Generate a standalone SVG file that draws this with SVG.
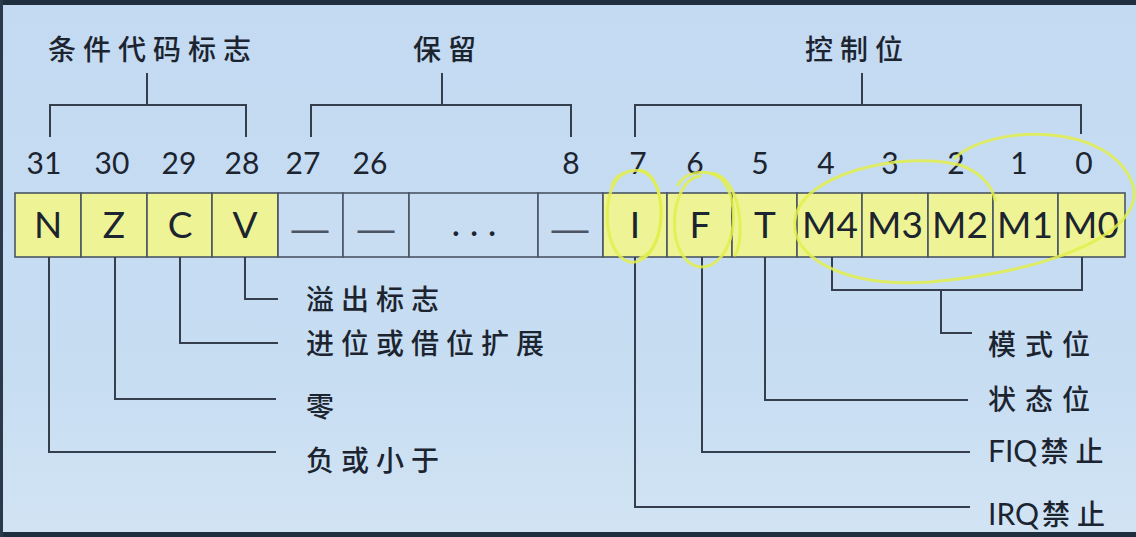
<svg xmlns="http://www.w3.org/2000/svg" width="1136" height="537" viewBox="0 0 1136 537">
<defs>
<linearGradient id="bg" x1="0" y1="0" x2="0" y2="1">
<stop offset="0" stop-color="#c3daf2"/>
<stop offset="0.7" stop-color="#c7ddf2"/>
<stop offset="1" stop-color="#d2e4f4"/>
</linearGradient>
<style>
.cell{stroke:#4a5564;stroke-width:1.6}
.flag{fill:#eef495}
.res{fill:#c8ddf2}
.ltr{font-family:Lato,"Open Sans","Liberation Sans",sans-serif;font-size:37px;fill:#1c2430;text-anchor:middle}
.dash{font-family:"Liberation Sans",sans-serif;font-size:37px;fill:#4a5462;text-anchor:middle}
.num{font-family:Lato,"Open Sans","Liberation Sans",sans-serif;font-size:30px;fill:#1c2430;text-anchor:middle}
.cjk{font-family:"Noto Sans CJK SC","Noto Sans CJK JP",sans-serif;font-size:28px;font-weight:500;fill:#1c2430;letter-spacing:7px}
.lat{font-family:Lato,"Open Sans","Liberation Sans",sans-serif;font-size:30px;fill:#1c2430;letter-spacing:0}
.ln{fill:none;stroke:#343e4c;stroke-width:2}
.hl{fill:none;stroke:#e3ef4c;stroke-width:3;opacity:0.85;stroke-linecap:round}
</style>
</defs>
<rect x="0" y="0" width="1136" height="537" fill="url(#bg)"/>
<rect x="0" y="0" width="1136" height="5" fill="#1f2f3f"/>
<rect x="0" y="532" width="1136" height="5" fill="#1f2f3f"/>
<rect x="0" y="0" width="3" height="537" fill="#2a3a4a"/>

<g id="group-labels">
<text id="lbl-cond" class="cjk" x="48" y="60">条件代码标志</text>
<text id="lbl-res" class="cjk" x="413" y="60">保留</text>
<text id="lbl-ctrl" class="cjk" x="805" y="60">控制位</text>
</g>

<g id="bit-numbers">
<text class="num" x="44" y="174">31</text>
<text class="num" x="112" y="174">30</text>
<text class="num" x="179" y="174">29</text>
<text class="num" x="242" y="174">28</text>
<text class="num" x="303" y="174">27</text>
<text class="num" x="370" y="174">26</text>
<text class="num" x="571" y="174">8</text>
<text class="num" x="638" y="174">7</text>
<text class="num" x="695" y="174">6</text>
<text class="num" x="760" y="174">5</text>
<text class="num" x="826" y="174">4</text>
<text class="num" x="890" y="174">3</text>
<text class="num" x="956" y="174">2</text>
<text class="num" x="1019" y="174">1</text>
<text class="num" x="1084" y="174">0</text>
</g>

<g id="cell-N"><rect class="cell flag" x="15" y="193" width="66" height="64"/><text class="ltr" x="48" y="238">N</text></g>
<g id="cell-Z"><rect class="cell flag" x="81" y="193" width="66" height="64"/><text class="ltr" x="114" y="238">Z</text></g>
<g id="cell-C"><rect class="cell flag" x="147" y="193" width="65" height="64"/><text class="ltr" x="180" y="238">C</text></g>
<g id="cell-V"><rect class="cell flag" x="212" y="193" width="66" height="64"/><text class="ltr" x="245" y="238">V</text></g>
<g id="cell-r27"><rect class="cell res" x="278" y="193" width="65" height="64"/><text class="dash" x="310" y="241">—</text></g>
<g id="cell-r26"><rect class="cell res" x="343" y="193" width="66" height="64"/><text class="dash" x="376" y="241">—</text></g>
<g id="cell-rdots"><rect class="cell res" x="409" y="193" width="129" height="64"/><text class="ltr" x="474" y="236">. . .</text></g>
<g id="cell-r8"><rect class="cell res" x="538" y="193" width="65" height="64"/><text class="dash" x="570" y="241">—</text></g>
<g id="cell-I"><rect class="cell flag" x="603" y="193" width="64" height="64"/><text class="ltr" x="635" y="238">I</text></g>
<g id="cell-F"><rect class="cell flag" x="667" y="193" width="65" height="64"/><text class="ltr" x="700" y="238">F</text></g>
<g id="cell-T"><rect class="cell flag" x="732" y="193" width="65" height="64"/><text class="ltr" x="765" y="238">T</text></g>
<g id="cell-M4"><rect class="cell flag" x="797" y="193" width="65" height="64"/><text class="ltr" x="830" y="238">M4</text></g>
<g id="cell-M3"><rect class="cell flag" x="862" y="193" width="66" height="64"/><text class="ltr" x="895" y="238">M3</text></g>
<g id="cell-M2"><rect class="cell flag" x="928" y="193" width="65" height="64"/><text class="ltr" x="960" y="238">M2</text></g>
<g id="cell-M1"><rect class="cell flag" x="993" y="193" width="65" height="64"/><text class="ltr" x="1025" y="238">M1</text></g>
<g id="cell-M0"><rect class="cell flag" x="1058" y="193" width="67" height="64"/><text class="ltr" x="1091" y="238">M0</text></g>

<g id="connectors">
<path class="ln" d="M147 73 V105 M50 137 V105 H246 V137"/>
<path class="ln" d="M442 73 V105 M311 137 V105 H571 V137"/>
<path class="ln" d="M862 73 V105 M635 137 V105 H1081 V134"/>
<path class="ln" d="M49 257 V452 H276"/>
<path class="ln" d="M115 257 V399 H276"/>
<path class="ln" d="M180 257 V343 H278"/>
<path class="ln" d="M245 257 V299 H278"/>
<path class="ln" d="M635 257 V507 H970"/>
<path class="ln" d="M702 257 V452 H970"/>
<path class="ln" d="M765 257 V400 H968"/>
<path class="ln" d="M832 257 V290 H1082 V257 M941 290 V333 H972"/>
</g>

<g id="desc-left">
<text id="d-V" class="cjk" x="306" y="310">溢出标志</text>
<text id="d-C" class="cjk" x="306" y="354">进位或借位扩展</text>
<text id="d-Z" class="cjk" x="306" y="417">零</text>
<text id="d-N" class="cjk" x="306" y="471">负或小于</text>
</g>
<g id="desc-right">
<text id="d-M" class="cjk" x="988" y="355" style="letter-spacing:9px">模式位</text>
<text id="d-T" class="cjk" x="988" y="410" style="letter-spacing:9px">状态位</text>
<text id="d-F" x="988" y="462"><tspan class="lat">FIQ</tspan><tspan class="cjk" dx="3">禁止</tspan></text>
<text id="d-I" x="988" y="525"><tspan class="lat">IRQ</tspan><tspan class="cjk" dx="3">禁止</tspan></text>
</g>

<g id="annotations">
<path class="hl" d="M628 172 C600 178 600 255 630 262 C660 266 672 200 650 176 C638 165 615 172 612 186"/>
<path class="hl" d="M640 170 C668 175 668 250 640 258"/>
<path class="hl" d="M700 176 C668 180 664 262 700 267 C735 268 744 200 720 178 C705 168 685 172 678 185"/>
<path class="hl" d="M712 173 C742 178 745 240 735 255"/>
<path class="hl" d="M955 158 C990 125 1110 120 1133 185 C1145 230 1060 270 930 282 C840 288 790 255 795 220 C800 175 900 150 960 165 C980 172 992 185 995 200"/>
</g>
</svg>
